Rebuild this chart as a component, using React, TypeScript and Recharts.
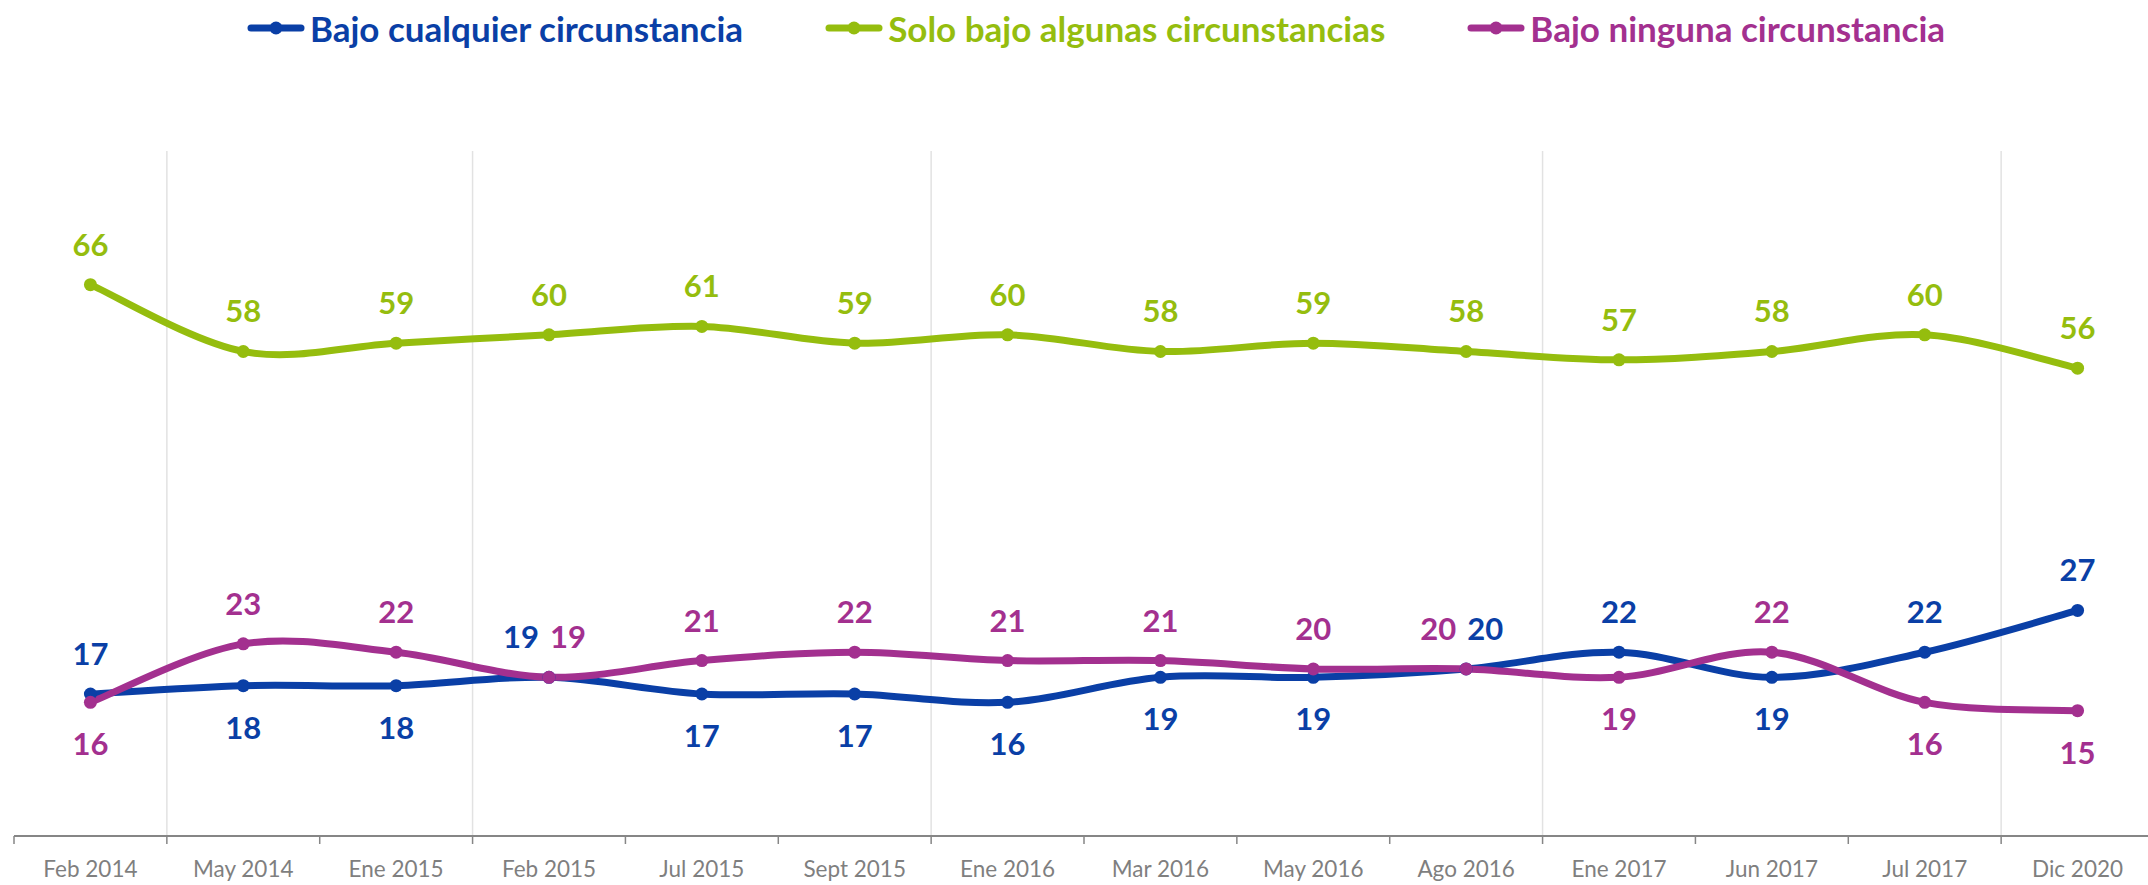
import React from "react"
import { LineChart, Line, XAxis, YAxis, CartesianGrid, LabelList } from "recharts"

const months = [
  "Feb 2014", "May 2014", "Ene 2015", "Feb 2015", "Jul 2015", "Sept 2015", "Ene 2016",
  "Mar 2016", "May 2016", "Ago 2016", "Ene 2017", "Jun 2017", "Jul 2017", "Dic 2020",
]
const cualquier = [17, 18, 18, 19, 17, 17, 16, 19, 19, 20, 22, 19, 22, 27]
const algunas = [66, 58, 59, 60, 61, 59, 60, 58, 59, 58, 57, 58, 60, 56]
const ninguna = [16, 23, 22, 19, 21, 22, 21, 21, 20, 20, 19, 22, 16, 15]
// year boundaries where the light vertical gridlines sit
const yearBreaks = [1, 3, 6, 10, 13]

const BLUE = "#0a3fa6"
const GREEN = "#95bd0e"
const PURPLE = "#a3308f"
const FONT = "Lato, 'Open Sans', sans-serif"

const W = 2148
const H = 885
const M = { top: 151, right: -6, left: 14, bottom: 0 }
const PLOT_W = W - M.left - M.right
const BAND = PLOT_W / months.length

const data = months.map((month, i) => ({
  month,
  cualquier: cualquier[i],
  algunas: algunas[i],
  ninguna: ninguna[i],
}))

const series = [
  { key: "cualquier", name: "Bajo cualquier circunstancia", color: BLUE },
  { key: "algunas", name: "Solo bajo algunas circunstancias", color: GREEN },
  { key: "ninguna", name: "Bajo ninguna circunstancia", color: PURPLE },
]

// Excel-style smoothed line (Catmull-Rom as cubic beziers)
const excelCurve = (context: any) => {
  let pts: [number, number][] = []
  return {
    areaStart() {},
    areaEnd() {},
    lineStart() {
      pts = []
    },
    lineEnd() {
      if (!pts.length) return
      context.moveTo(pts[0][0], pts[0][1])
      for (let i = 0; i < pts.length - 1; i++) {
        const p0 = pts[Math.max(i - 1, 0)]
        const p1 = pts[i]
        const p2 = pts[i + 1]
        const p3 = pts[Math.min(i + 2, pts.length - 1)]
        context.bezierCurveTo(
          p1[0] + (p2[0] - p0[0]) / 6,
          p1[1] + (p2[1] - p0[1]) / 6,
          p2[0] - (p3[0] - p1[0]) / 6,
          p2[1] - (p3[1] - p1[1]) / 6,
          p2[0],
          p2[1]
        )
      }
    },
    point(x: number, y: number) {
      pts.push([+x, +y])
    },
  }
}

function placement(key: string, i: number) {
  if (key === "algunas") return { dx: 0, above: true }
  const b = cualquier[i]
  const p = ninguna[i]
  if (b === p) {
    const blueRight = (cualquier[i + 1] ?? b) > (ninguna[i + 1] ?? p)
    const right = key === "cualquier" ? blueRight : !blueRight
    return { dx: right ? 19 : -28, above: true }
  }
  const mine = key === "cualquier" ? b : p
  const other = key === "cualquier" ? p : b
  return { dx: 0, above: mine > other }
}

const makeLabel = (key: string, color: string) => (props: any) => {
  const { x, y, value, index } = props
  const pos = placement(key, index)
  return (
    <text
      x={x + pos.dx}
      y={pos.above ? y - 29 : y + 53}
      textAnchor="middle"
      fill={color}
      fontFamily={FONT}
      fontWeight={700}
      fontSize={31}
    >
      {value}
    </text>
  )
}

const MonthTick = (props: any) => {
  const { x, y, payload, index } = props
  const left = x - BAND / 2
  return (
    <g>
      <line x1={left} y1={y} x2={left} y2={y + 8} stroke="#868686" strokeWidth={1.5} />
      {index === months.length - 1 && (
        <line x1={x + BAND / 2} y1={y} x2={x + BAND / 2} y2={y + 8} stroke="#868686" strokeWidth={1.5} />
      )}
      <text
        x={x}
        y={y + 35}
        textAnchor="middle"
        dominantBaseline="middle"
        fill="#7f7f7f"
        fontFamily={FONT}
        fontSize={22.5}
      >
        {payload.value}
      </text>
    </g>
  )
}

function LegendRow() {
  return (
    <div
      style={{
        position: "absolute",
        top: 9,
        left: 0,
        width: W,
        display: "flex",
        justifyContent: "center",
        gap: 82,
        paddingLeft: 44,
        boxSizing: "border-box",
        fontFamily: FONT,
        fontWeight: 700,
        fontSize: 35,
        lineHeight: "38px",
      }}
    >
      {series.map((s) => (
        <div key={s.key} style={{ display: "flex", alignItems: "center", color: s.color }}>
          <svg width={58} height={20} style={{ marginRight: 5 }}>
            <line x1={4} y1={10} x2={54} y2={10} stroke={s.color} strokeWidth={7} strokeLinecap="round" />
            <circle cx={29} cy={10} r={6.5} fill={s.color} />
          </svg>
          <span>{s.name}</span>
        </div>
      ))}
    </div>
  )
}

export default function App() {
  return (
    <div style={{ position: "absolute", left: 0, top: 0, width: W, height: H, background: "#fff", overflow: "hidden" }}>
      <LegendRow />
      <LineChart width={W} height={H} data={data} margin={M}>
        <CartesianGrid
          horizontal={false}
          verticalPoints={yearBreaks.map((b) => M.left + b * BAND)}
          stroke="#e2e2e2"
          strokeWidth={1.5}
        />
        <XAxis
          dataKey="month"
          height={49}
          interval={0}
          padding={{ left: BAND / 2, right: BAND / 2 }}
          tickLine={false}
          tickSize={0}
          tickMargin={0}
          axisLine={{ stroke: "#868686", strokeWidth: 2 }}
          tick={<MonthTick />}
        />
        <YAxis hide domain={[0, 82]} />
        {series.map((s) => (
          <Line
            key={s.key}
            dataKey={s.key}
            name={s.name}
            type={excelCurve as any}
            stroke={s.color}
            strokeWidth={7}
            dot={{ r: 6.5, fill: s.color, stroke: s.color, strokeWidth: 0 }}
            activeDot={false}
            isAnimationActive={false}
          >
            <LabelList dataKey={s.key} content={makeLabel(s.key, s.color)} />
          </Line>
        ))}
      </LineChart>
    </div>
  )
}
